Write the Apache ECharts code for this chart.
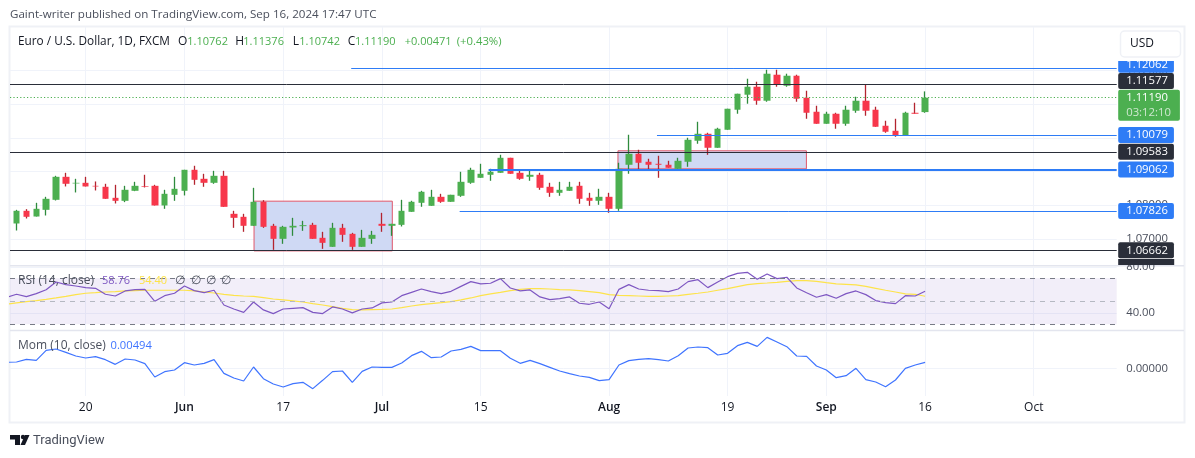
<!DOCTYPE html>
<html lang="en">

<head>
    <meta charset="UTF-8">
    <title>EUR/USD 1D</title>
    <script src="https://cdn.jsdelivr.net/npm/echarts@6/dist/echarts.min.js"></script>
    <style>
        html, body { margin: 0; padding: 0; background: #fff; }
        #chart { width: 1195px; height: 458px; }
    </style>
</head>

<body>
    <div id="chart"></div>
    <script>
        // daily bars, bar 0 = 9 May 2024, bar 92 = 16 Sep 2024
        const opens = [1.07459,1.07835,1.07666,1.07864,1.08161,1.08843,1.08646,1.08665,1.08576,1.08547,1.0822,1.08131,1.08428,1.08566,1.08576,1.07993,1.08309,1.08428,1.09051,1.08784,1.08665,1.08873,1.07746,1.07657,1.0739,1.08102,1.0739,1.07004,1.0734,1.0738,1.07419,1.07034,1.06767,1.0733,1.07152,1.06767,1.07004,1.07449,1.0739,1.07419,1.07805,1.08072,1.07983,1.0825,1.08102,1.0828,1.08666,1.08814,1.08903,1.08962,1.09407,1.08962,1.08844,1.08903,1.08547,1.08369,1.08428,1.08577,1.08221,1.08132,1.0825,1.07894,1.092,1.09526,1.09289,1.09229,1.092,1.09081,1.09289,1.09912,1.10119,1.09704,1.10238,1.10832,1.11277,1.11514,1.11099,1.1187,1.11544,1.1184,1.11188,1.10772,1.10416,1.10713,1.10416,1.10802,1.11099,1.10832,1.10357,1.10208,1.1008,1.10742,1.10762];
        const closes = [1.07835,1.07657,1.07894,1.08191,1.08843,1.08636,1.08665,1.08557,1.08557,1.08191,1.08131,1.08458,1.08576,1.08547,1.07993,1.08339,1.08487,1.09051,1.08754,1.08665,1.08873,1.07953,1.07627,1.0739,1.08102,1.0736,1.07004,1.0736,1.0739,1.07409,1.07004,1.06885,1.0733,1.07123,1.06767,1.07034,1.07123,1.0739,1.07449,1.07835,1.08102,1.08399,1.0825,1.08102,1.0831,1.08695,1.09051,1.08933,1.08992,1.09407,1.08933,1.08784,1.08903,1.08517,1.08369,1.08458,1.08547,1.08191,1.08132,1.0825,1.07894,1.09081,1.09526,1.09259,1.092,1.092,1.09111,1.09318,1.09941,1.10119,1.09704,1.10268,1.10861,1.11306,1.11514,1.11099,1.119,1.11573,1.1184,1.11158,1.10742,1.10416,1.10713,1.10416,1.10832,1.11099,1.10802,1.10327,1.10179,1.1008,1.10742,1.10713,1.1119];
        const lows = [1.07251,1.07607,1.07666,1.07696,1.08141,1.08557,1.08379,1.08557,1.08438,1.08191,1.08052,1.08092,1.08418,1.08527,1.07993,1.07894,1.08131,1.0829,1.08606,1.08547,1.08636,1.07953,1.0733,1.07212,1.0739,1.0733,1.06677,1.06856,1.07093,1.07241,1.07004,1.06707,1.06767,1.06915,1.06677,1.06767,1.06856,1.07212,1.07093,1.0737,1.07805,1.07954,1.07983,1.08072,1.08102,1.0825,1.08636,1.08814,1.08725,1.08962,1.08933,1.08755,1.08725,1.08458,1.0825,1.0828,1.08428,1.08043,1.07983,1.08013,1.07775,1.07835,1.08933,1.09051,1.09051,1.08814,1.09111,1.09081,1.0914,1.09823,1.09496,1.09704,1.10238,1.10713,1.1101,1.1098,1.11069,1.11514,1.11514,1.11069,1.10564,1.10416,1.10416,1.10268,1.10357,1.10742,1.10653,1.10327,1.10149,1.1003,1.1008,1.10713,1.10742];
        const highs = [1.07864,1.07884,1.08072,1.0825,1.08873,1.08962,1.08784,1.08843,1.08705,1.08636,1.08606,1.08576,1.08695,1.08903,1.08606,1.08458,1.08843,1.09051,1.0917,1.08932,1.09021,1.09021,1.07835,1.07746,1.08517,1.08151,1.07449,1.0739,1.07627,1.07538,1.07479,1.07212,1.07479,1.07449,1.07182,1.07271,1.07241,1.07775,1.07449,1.08161,1.08132,1.08428,1.08458,1.08339,1.0831,1.08992,1.09111,1.09229,1.09081,1.09496,1.09407,1.09022,1.09022,1.08962,1.08666,1.08695,1.08695,1.08695,1.08369,1.08488,1.08369,1.09259,1.1009,1.09645,1.09378,1.09467,1.09318,1.09407,1.10001,1.10475,1.10149,1.10297,1.10861,1.11306,1.11751,1.11662,1.12018,1.12018,1.119,1.1187,1.11395,1.1095,1.10772,1.10742,1.1095,1.11217,1.11573,1.10921,1.10505,1.10564,1.10772,1.11039,1.11376];

        // rsi, rsiMa and momentum start one bar earlier, off the left edge
        const rsi = [53.5,56.1,54.1,56.7,60.1,66.8,64.5,63.3,61.9,61.3,56.1,54.6,59.0,60.1,60.4,50.0,54.9,57.0,63.3,59.3,57.5,59.6,46.8,43.3,40.4,49.4,42.5,39.3,43.3,43.9,44.5,40.4,39.3,45.1,43.3,39.9,43.3,44.2,48.6,49.4,54.9,57.8,60.7,58.4,56.7,58.7,63.0,67.1,65.1,65.7,69.7,61.6,59.0,59.9,53.8,51.4,52.3,53.8,48.3,47.4,49.4,43.6,60.4,64.5,60.7,59.6,59.3,58.4,60.7,67.1,68.8,61.9,66.8,71.4,74.3,75.2,69.1,73.8,69.7,70.9,61.6,57.5,53.5,55.8,52.6,56.7,59.0,55.8,50.6,48.8,48.0,54.9,54.6,58.76];
        const rsiMa = [47.4,48.6,49.7,50.6,51.7,52.9,54.3,55.8,57.0,57.5,58.1,58.4,59.0,59.3,59.6,59.6,59.6,59.6,59.6,59.0,58.1,57.2,56.1,55.2,54.6,54.3,53.2,52.0,51.2,50.3,49.4,48.0,46.8,45.4,43.9,42.8,42.5,42.8,43.0,43.3,44.5,45.9,47.1,48.0,48.8,49.7,51.2,52.9,54.9,56.4,57.8,59.3,60.4,61.0,61.0,60.7,60.1,59.9,59.3,58.4,57.5,55.8,55.2,54.9,54.6,54.3,54.3,54.6,54.9,56.1,57.0,58.1,59.6,61.0,62.8,64.5,65.4,65.9,66.5,67.4,68.0,68.0,67.4,66.2,65.1,64.8,64.2,63.0,61.3,59.6,58.1,56.4,56.1,54.4];
        const momentum = [0.00493,0.00521,0.0074,0.00658,0.0148,0.01589,0.01315,0.01014,0.00849,0.00959,0.00712,0.00329,0.00767,0.00685,0.00384,-0.00712,-0.00274,-0.00137,0.00466,0.00274,0.00411,0.00712,-0.00411,-0.00795,-0.01041,0.0011,-0.00849,-0.01288,-0.01534,-0.0126,-0.01151,-0.01671,-0.00986,-0.00274,-0.00219,-0.01151,-0.00247,0.0011,0.00082,0.00082,0.00438,0.01041,0.01397,0.00877,0.00932,0.01425,0.01562,0.01808,0.01452,0.01452,0.01452,0.00822,0.00411,0.00658,0.00384,0.00082,-0.00219,-0.00438,-0.0063,-0.0074,-0.01014,-0.00932,0.00274,0.0063,0.0074,0.00795,0.00712,0.00603,0.01041,0.01671,0.01754,0.01699,0.01096,0.01233,0.01863,0.02137,0.01808,0.02548,0.02165,0.01781,0.01014,0.00986,0.00192,-0.00137,-0.00767,-0.00603,0,-0.00932,-0.01123,-0.01507,-0.00959,0,0.00274,0.00494];

        const tickBars = [7, 17, 27, 37, 47, 60, 72, 82, 92, 103];
        const tickLabels = ['20', 'Jun', '17', 'Jul', '15', 'Aug', '19', 'Sep', '16', 'Oct'];
        const priceTicks = [1.07, 1.08, 1.09, 1.10, 1.11, 1.12];

        // drawn levels: price, first bar, colour, width, badge nudge (the top two badges get pushed up)
        const levelPrices = [1.12062, 1.11577, 1.10079, 1.09583, 1.09062, 1.07826, 1.06662];
        const levelStarts = [33.89, -0.66, 64.85, -0.66, 47.8, 44.87, -0.66];
        const levelColors = ['#2e7cf6', '#2a2e39', '#2e7cf6', '#2a2e39', '#2e7cf6', '#2e7cf6', '#2a2e39'];
        const levelWidths = [1, 1, 1, 1, 2, 1, 1];
        const levelNudge = [-3.5, -3.5, 0, 0, 0, 0, 0];
        const lastPrice = 1.1119;
        const countdown = '03:12:10';

        // boxes: first bar, last bar, top price, bottom price
        const boxes = [
            [24.05, 38.05, 1.08121, 1.06646],
            [60.9, 79.98, 1.09614, 1.0908]
        ];

        const xMin = -0.66, xMax = 111.4;
        const font = '"Open Sans", sans-serif';
        const textDark = '#131722', textGrey = '#4a4f5c';
        const gridColor = '#f0f3fa';
        const numSize = 11.3;

        const up = '#4caf50', down = '#f7374b';
        const wickUp = '#2e8b3d', wickDown = '#b3242f';

        const bars = opens.map((o, i) => [i, o, closes[i], lows[i], highs[i]]);
        const bodies = opens.map((o, i) => [i, o, closes[i], Math.min(o, closes[i]), Math.max(o, closes[i])]);

        const chart = echarts.init(document.getElementById('chart'), null, { renderer: 'canvas' });

        function xAxisFor(gridIndex, showLabel) {
            return {
                type: 'value', gridIndex: gridIndex, min: xMin, max: xMax,
                axisLine: { show: false },
                axisTick: { show: false, customValues: tickBars },
                splitLine: { show: true, lineStyle: { color: gridColor, width: 1 } },
                axisLabel: {
                    show: showLabel, customValues: tickBars, margin: 6, fontFamily: font, fontSize: 12, color: textDark,
                    hideOverlap: false, showMinLabel: true, showMaxLabel: true,
                    formatter: v => {
                        const l = tickLabels[tickBars.indexOf(v)];
                        return isNaN(+l) && l !== 'Oct' ? '{m|' + l + '}' : l;
                    },
                    rich: { m: { fontFamily: font, fontSize: 12, fontWeight: 600, color: textDark } }
                }
            };
        }

        function yAxisFor(gridIndex, min, max, ticks, digits) {
            return {
                type: 'value', gridIndex: gridIndex, position: 'right', min: min, max: max, scale: true,
                axisLine: { show: false },
                axisTick: { show: false, customValues: ticks },
                splitLine: { show: true, lineStyle: { color: gridColor, width: 1 } },
                axisLabel: {
                    customValues: ticks, margin: 9.5, fontFamily: font, fontSize: numSize, color: textGrey,
                    formatter: v => v.toFixed(digits)
                }
            };
        }

        function badge(color, extra) {
            return Object.assign({
                show: true, position: 'end', distance: 1.5, color: '#fff', fontFamily: font, fontSize: numSize,
                backgroundColor: color, padding: [2.5, 6, 2.5, 8], borderRadius: 2
            }, extra);
        }

        const levelLines = levelPrices.map((p, i) => [
            {
                coord: [levelStarts[i], p],
                lineStyle: { color: levelColors[i], width: levelWidths[i], type: 'solid' },
                label: badge(levelColors[i], { formatter: p.toFixed(5), offset: [0, levelNudge[i]] })
            },
            { coord: [xMax, p] }
        ]);
        levelLines.push([
            {
                coord: [xMin, lastPrice],
                lineStyle: { color: up, width: 1.2, type: [1.2, 2.2] },
                label: badge(up, {
                    formatter: '{a|' + lastPrice.toFixed(5) + '}\n{b|' + countdown + '}',
                    offset: [0, 7.5], padding: [0.5, 9, 0.5, 8],
                    rich: {
                        a: { color: '#fff', fontFamily: font, fontSize: numSize, lineHeight: 15 },
                        b: { color: '#cfe8d0', fontFamily: font, fontSize: numSize, lineHeight: 15 }
                    }
                })
            },
            { coord: [xMax, lastPrice] }
        ]);

        function text(x, y, str, fill, size) {
            return {
                type: 'text', x: x, y: y, z: 50, silent: true,
                style: { text: str, fill: fill, font: (size || 12) + 'px ' + font, textVerticalAlign: 'middle' }
            };
        }

        const paneLine = { stroke: '#e3e5ee', lineWidth: 1.5 };
        const frame = { stroke: '#eff1f6', lineWidth: 2, fill: 'none' };

        chart.setOption({
            animation: false,
            backgroundColor: '#fff',
            grid: [
                { left: 10, width: 1106.7, top: 27, height: 238 },
                { left: 10, width: 1106.7, top: 266.5, height: 63.5 },
                { left: 10, width: 1106.7, top: 331.5, height: 64.5 }
            ],
            xAxis: [xAxisFor(0, false), xAxisFor(1, false), xAxisFor(2, true)],
            yAxis: [
                yAxisFor(0, 1.06228, 1.13285, priceTicks, 5),
                yAxisFor(1, 25.04, 80.26, [40, 80], 2),
                yAxisFor(2, -0.02274, 0.03028, [0], 5)
            ],
            series: [
                {
                    name: 'levels', type: 'line', xAxisIndex: 0, yAxisIndex: 0, data: [], z: 1, silent: true,
                    markArea: {
                        silent: true,
                        data: boxes.map(b => [
                            {
                                coord: [b[0], b[2]],
                                itemStyle: { color: '#cfd9f4', borderColor: '#e0566a', borderWidth: 1 }
                            },
                            { coord: [b[1], b[3]] }
                        ])
                    },
                    markLine: { silent: true, symbol: 'none', animation: false, data: levelLines }
                },
                {
                    name: 'wicks', type: 'candlestick', xAxisIndex: 0, yAxisIndex: 0, data: bars, z: 3, barWidth: 1,
                    itemStyle: { color: wickUp, color0: wickDown, borderColor: wickUp, borderColor0: wickDown, borderWidth: 1.3 }
                },
                {
                    name: 'bodies', type: 'candlestick', xAxisIndex: 0, yAxisIndex: 0, data: bodies, z: 4, barWidth: 7,
                    itemStyle: { color: up, color0: down, borderColor: up, borderColor0: down, borderWidth: 0 }
                },
                {
                    name: 'RSI', type: 'line', xAxisIndex: 1, yAxisIndex: 1, showSymbol: false, z: 4,
                    data: rsi.map((v, i) => [i - 1, v]),
                    lineStyle: { color: '#7e57c2', width: 1.2 },
                    markArea: {
                        silent: true,
                        data: [[
                            { coord: [xMin, 70], itemStyle: { color: 'rgba(126,87,194,0.1)' } },
                            { coord: [xMax, 30] }
                        ]]
                    },
                    markLine: {
                        silent: true, symbol: 'none', animation: false, label: { show: false },
                        data: [
                            { yAxis: 70, lineStyle: { color: '#787b86', type: [5, 5], width: 1 } },
                            { yAxis: 50, lineStyle: { color: '#b5b8c2', type: [5, 5], width: 1 } },
                            { yAxis: 30, lineStyle: { color: '#787b86', type: [5, 5], width: 1 } }
                        ]
                    }
                },
                {
                    name: 'RSI MA', type: 'line', xAxisIndex: 1, yAxisIndex: 1, showSymbol: false, z: 3,
                    data: rsiMa.map((v, i) => [i - 1, v]),
                    lineStyle: { color: '#fde34a', width: 1.2 }
                },
                {
                    name: 'Mom', type: 'line', xAxisIndex: 2, yAxisIndex: 2, showSymbol: false, z: 3,
                    data: momentum.map((v, i) => [i - 1, v]),
                    lineStyle: { color: '#3f74ff', width: 1.2 }
                }
            ],
            graphic: [
                { type: 'rect', z: 0, shape: { x: 9.5, y: 26.5, width: 1175, height: 396 }, style: frame, silent: true },
                { type: 'line', z: 0, shape: { x1: 10, y1: 265.8, x2: 1184, y2: 265.8 }, style: paneLine, silent: true },
                { type: 'line', z: 0, shape: { x1: 10, y1: 330.6, x2: 1184, y2: 330.6 }, style: paneLine, silent: true },
                { type: 'rect', z: 39, shape: { x: 1117, y: 28, width: 66, height: 33 }, style: { fill: '#fff' }, silent: true },
                { type: 'rect', z: 40, shape: { x: 1120.5, y: 31, width: 60, height: 26, r: 4 }, style: { fill: '#fff', stroke: '#eff1f6', lineWidth: 1.5 }, silent: true },
                { type: 'rect', z: 9, shape: { x: 1118.2, y: 259, width: 56, height: 6 }, style: { fill: '#2a2e39' }, silent: true },
                text(1130, 44, 'USD', textDark),
                text(10, 15, 'Gaint-writer published on TradingView.com, Sep 16, 2024 17:47 UTC', textGrey, 11.6),
                text(18, 41.5, 'Euro / U.S. Dollar, 1D, FXCM', textDark, 11.8),
                text(178, 41.5, 'O', textDark),
                text(187.3, 41.5, '1.10762', up, 11),
                text(235.3, 41.5, 'H', textDark),
                text(243.3, 41.5, '1.11376', up, 11),
                text(292.7, 41.5, 'L', textDark),
                text(299.3, 41.5, '1.10742', up, 11),
                text(347.7, 41.5, 'C', textDark),
                text(355, 41.5, '1.11190', up, 11),
                text(404.7, 41.5, '+0.00471', up, 11),
                text(456.7, 41.5, '(+0.43%)', up, 11.3),
                text(18, 281, 'RSI (14, close)', textGrey),
                text(102, 281, '58.76', '#7e57c2', 11),
                text(139, 281, '54.40', '#fde34a', 11),
                text(175, 281, '∅', textGrey),
                text(191, 281, '∅', textGrey),
                text(206, 281, '∅', textGrey),
                text(221, 281, '∅', textGrey),
                text(18, 346, 'Mom (10, close)', textGrey),
                text(110.5, 346, '0.00494', '#3f74ff', 11.2),
                { type: 'polygon', shape: { points: [[10, 435], [20, 435], [20, 445], [15, 445], [15, 439.5], [10, 439.5]] }, style: { fill: '#131722' }, silent: true },
                { type: 'circle', shape: { cx: 23, cy: 437, r: 2.2 }, style: { fill: '#131722' }, silent: true },
                { type: 'polygon', shape: { points: [[25, 435], [29.5, 435], [25, 445], [20.5, 445]] }, style: { fill: '#131722' }, silent: true },
                {
                    type: 'text', x: 33, y: 440.5, silent: true,
                    style: { text: 'TradingView', fill: '#4a4f5c', font: '13px Roboto, sans-serif', textVerticalAlign: 'middle' }
                }
            ]
        });
    </script>
</body>

</html>
